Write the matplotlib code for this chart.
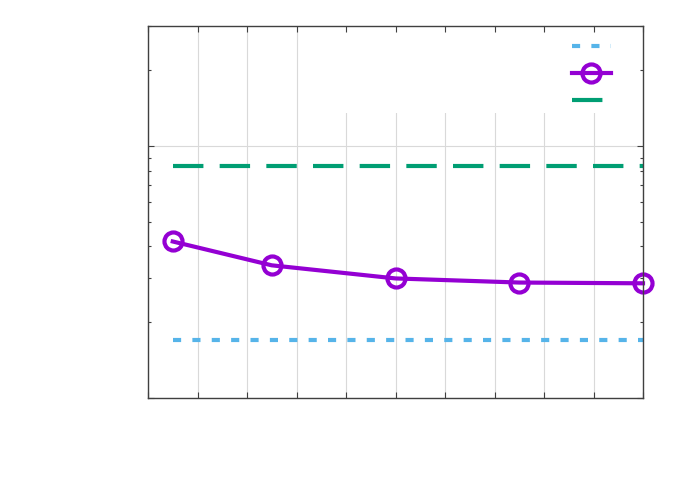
import matplotlib
matplotlib.use('Agg')
import matplotlib.pyplot as plt
from matplotlib.patches import Rectangle

# data (labels are not shown in the original)
x_vals = [1, 5, 10, 15, 20]
lower_ref = [1.70, 1.70, 1.70, 1.70, 1.70]
measured = [4.18, 3.36, 2.98, 2.87, 2.85]
upper_ref = [8.33, 8.33, 8.33, 8.33, 8.33]
series_labels = ['', '', '']

c_blue = '#56b4e9'
c_purple = '#9400d3'
c_green = '#009e73'
c_border = '#404040'

fig = plt.figure(figsize=(6.92, 4.85), dpi=100)
rect = [148 / 692, 1 - 398.7 / 485, 495 / 692, 371.5 / 485]
ax = fig.add_axes(rect)
ax.set_yscale('log')
ax.set_xlim(0, 20)
ax.set_ylim(1, 30)
ax.set_xticks(range(0, 21, 2))
ax.grid(True, which='major', color='#d9d9d9', lw=0.8)
ax.set_axisbelow(True)
ax.tick_params(which='both', length=0, labelleft=False, labelbottom=False)
for s in ax.spines.values():
    s.set_visible(False)

# opaque key area (hides the grid behind the legend, like the original)
ax.add_patch(Rectangle((0.33, 0.7655), 0.67, 0.2345, transform=ax.transAxes,
                       facecolor='white', edgecolor='none', zorder=1))

l1, = ax.plot(x_vals, lower_ref, color=c_blue, lw=3.0, dashes=(1.95, 2.7),
              dash_capstyle='butt', zorder=3)
l2, = ax.plot(x_vals, measured, color=c_purple, lw=3.0, marker='o', ms=13,
              mfc='none', mew=3.0, clip_on=False, zorder=4)
l3, = ax.plot(x_vals, upper_ref, color=c_green, lw=3.0, dashes=(7.3, 3.9),
              dash_capstyle='butt', zorder=3)

ax.legend([l1, l2, l3], series_labels, loc='upper left',
          bbox_to_anchor=(0.8566, 0.962), frameon=False, fontsize=10,
          handlelength=2.8, handletextpad=0, borderpad=0, borderaxespad=0,
          labelspacing=0.93, numpoints=1)

# overlay axes for border and inward ticks on all sides
axt = fig.add_axes(rect, sharex=ax)
axt.set_yscale('log')
axt.set_ylim(1, 30)
axt.patch.set_visible(False)
axt.tick_params(which='both', direction='in', top=True, right=True,
                labelleft=False, labelbottom=False, color=c_border, width=0.8)
axt.tick_params(which='major', length=4.3)
axt.tick_params(which='minor', length=2.2)
for s in axt.spines.values():
    s.set_color(c_border)
    s.set_linewidth(1.0)

fig.savefig('out.png', dpi=100)
